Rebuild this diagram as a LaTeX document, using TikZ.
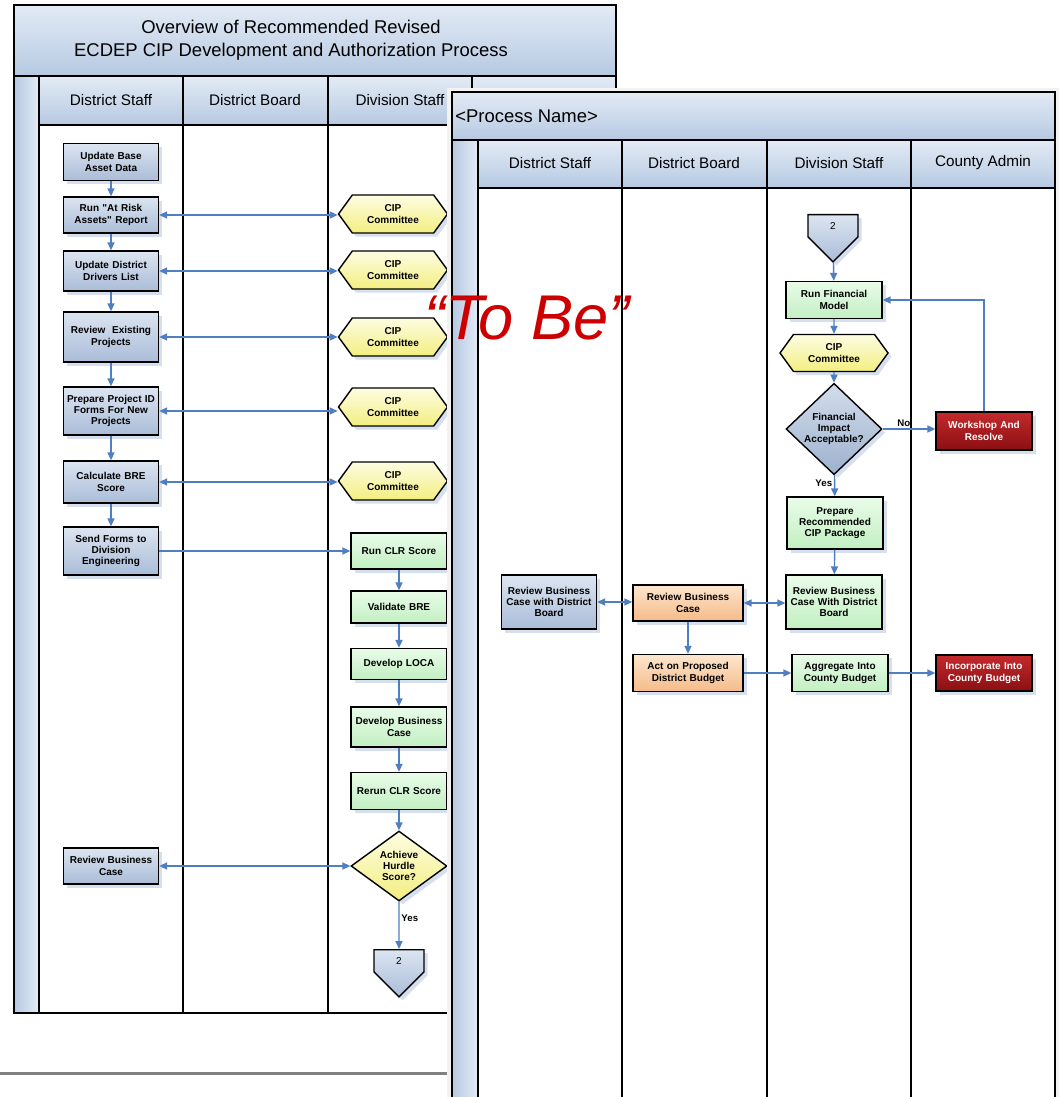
\documentclass[tikz,border=0pt]{standalone}
\usepackage{fontspec}
\setmainfont{Liberation Sans}
\usetikzlibrary{arrows.meta,shapes.geometric,shapes.symbols,shadows}

\definecolor{bandtop}{HTML}{E3EBF5}
\definecolor{bandbot}{HTML}{B6C9E2}
\definecolor{bluetop}{HTML}{DCE5F1}
\definecolor{bluebot}{HTML}{AABCD8}
\definecolor{greentop}{HTML}{E9FCE9}
\definecolor{greenbot}{HTML}{C2EFC2}
\definecolor{yeltop}{HTML}{FDFDE2}
\definecolor{yelbot}{HTML}{F3EE80}
\definecolor{orgtop}{HTML}{FDE6CF}
\definecolor{orgbot}{HTML}{F5BB88}
\definecolor{redtop}{HTML}{C42A2D}
\definecolor{redbot}{HTML}{8A0F12}
\definecolor{dectop}{HTML}{D3DDEB}
\definecolor{decbot}{HTML}{9DB1CE}
\definecolor{flow}{HTML}{4F7FC2}
\definecolor{shadowc}{HTML}{CCD7EA}
\definecolor{tobe}{HTML}{CC0000}

\begin{document}
\begin{tikzpicture}[x=0.02cm, y=-0.02cm,
  lane/.style={draw=black, line width=0.9pt},
  hdr/.style={font=\fontsize{8.7}{10}\selectfont, inner sep=0pt},
  box/.style={draw=black, line width=0.8pt, align=center, inner sep=0pt,
    font=\fontsize{5.7}{6.4}\selectfont\bfseries,
    drop shadow={shadow xshift=2pt, shadow yshift=-2pt, fill=shadowc, opacity=0.8}},
  bluebox/.style={box, top color=bluetop, bottom color=bluebot, text width=1.9cm},
  greenbox/.style={box, top color=greentop, bottom color=greenbot, text width=1.92cm},
  orangebox/.style={box, top color=orgtop, bottom color=orgbot, text width=2.2cm},
  redbox/.style={box, top color=redtop, bottom color=redbot, text=white, text width=1.92cm},
  cip/.style={box, top color=yeltop, bottom color=yelbot, signal, signal to=east and west,
    signal pointer angle=108, minimum width=2.18cm, minimum height=0.76cm},
  pent/.style={box, top color=bluetop, bottom color=bluebot, signal, signal to=south,
    signal pointer angle=90, minimum width=1cm, minimum height=0.5cm, font=\fontsize{5.7}{6.4}\selectfont},
  dec/.style={box, diamond, minimum width=1.92cm},
  lbl/.style={font=\fontsize{5.5}{6}\selectfont\bfseries, inner sep=1pt},
  arr/.style={draw=flow, line width=0.8pt, -{Triangle[length=4.5pt,width=4pt]}},
  darr/.style={draw=flow, line width=0.8pt, {Triangle[length=4.5pt,width=4pt]}-{Triangle[length=4.5pt,width=4pt]}}]

\useasboundingbox (0,0) rectangle (1059,1097);
\clip (0,0) rectangle (1059,1097);

% left sheet
\fill[white] (14,5) rectangle (616,1013);
\shade[top color=bandtop, bottom color=bandbot] (14,5) rectangle (616,76);
\shade[top color=bandtop, bottom color=bandbot] (39,76) rectangle (616,125);
\shade[left color=bandbot, right color=bandtop] (14,76) rectangle (39,1013);
\draw[lane] (14,5) rectangle (616,1013);
\draw[lane] (14,76) -- (616,76);
\draw[lane] (39,125) -- (616,125);
\draw[lane] (39,76) -- (39,1013);
\foreach \x in {183,328,472} \draw[lane] (\x,76) -- (\x,1013);
\draw[draw=gray, line width=1.7pt] (0,1073) -- (452,1073);

\node[align=center, font=\fontsize{10.5}{12.8}\selectfont, inner sep=0pt] (title) at (291,40)
  {Overview of Recommended Revised\\ECDEP CIP Development and Authorization Process};
\node[hdr] (hl1) at (111,100) {District Staff};
\node[hdr] (hl2) at (255,100) {District Board};
\node[hdr] (hl3) at (400,100) {Division Staff};

\node[bluebox, minimum height=0.74cm] (s1) at (111,162) {Update Base\\Asset Data};
\node[bluebox, minimum height=0.72cm] (s2) at (111,215) {Run \textquotedbl At Risk\\Assets\textquotedbl{} Report};
\node[bluebox, minimum height=0.8cm] (s3) at (111,271) {Update District\\Drivers List};
\node[bluebox, minimum height=1cm] (s4) at (111,337) {Review\ \ Existing\\Projects};
\node[bluebox, minimum height=0.96cm] (s5) at (111,411) {Prepare Project ID\\Forms For New\\Projects};
\node[bluebox, minimum height=0.84cm] (s6) at (111,482) {Calculate BRE\\Score};
\node[bluebox, minimum height=0.96cm] (s7) at (111,551) {Send Forms to\\Division\\Engineering};
\node[bluebox, minimum height=0.72cm] (s8) at (111,866) {Review Business\\Case};

\node[cip] (c1) at (393,214) {CIP\\Committee};
\node[cip] (c2) at (393,270) {CIP\\Committee};
\node[cip] (c3) at (393,337) {CIP\\Committee};
\node[cip] (c4) at (393,407) {CIP\\Committee};
\node[cip] (c5) at (393,481) {CIP\\Committee};

\node[greenbox, minimum height=0.72cm] (g1) at (399,551) {Run CLR Score};
\node[greenbox, minimum height=0.64cm] (g2) at (399,607) {Validate BRE};
\node[greenbox, minimum height=0.62cm] (g3) at (399,664) {Develop LOCA};
\node[greenbox, minimum height=0.8cm] (g4) at (399,727) {Develop Business\\Case};
\node[greenbox, minimum height=0.74cm] (g5) at (399,791) {Rerun CLR Score};
\node[dec, top color=yeltop, bottom color=yelbot, minimum height=1.4cm] (d1) at (399,866) {Achieve\\Hurdle\\Score?};
\node[pent, anchor=north] (p1) at (399,949) {2};

\draw[arr] (s1) -- (s2);
\draw[arr] (s2) -- (s3);
\draw[arr] (s3) -- (s4);
\draw[arr] (s4) -- (s5);
\draw[arr] (s5) -- (s6);
\draw[arr] (s6) -- (s7);
\draw[darr] (s2.east) -- (s2.east -| c1.west);
\draw[darr] (s3.east) -- (s3.east -| c2.west);
\draw[darr] (s4.east) -- (s4.east -| c3.west);
\draw[darr] (s5.east) -- (s5.east -| c4.west);
\draw[darr] (s6.east) -- (s6.east -| c5.west);
\draw[arr] (s7.east) -- (g1.west);
\draw[arr] (g1) -- (g2);
\draw[arr] (g2) -- (g3);
\draw[arr] (g3) -- (g4);
\draw[arr] (g4) -- (g5);
\draw[arr] (g5) -- (d1);
\draw[darr] (s8.east) -- (d1.west);
\draw[arr] (d1) -- node[lbl, right, pos=0.35] {Yes} (p1);

% right sheet
\fill[black!5] (447,88) rectangle (1059,1097);
\fill[white] (452,92) rectangle (1055,1100);
\shade[top color=bandtop, bottom color=bandbot] (452,92) rectangle (1055,140);
\shade[top color=bandtop, bottom color=bandbot] (478,140) rectangle (1055,188);
\shade[left color=bandbot, right color=bandtop] (452,140) rectangle (478,1100);
\draw[lane] (452,1100) -- (452,92) -- (1055,92) -- (1055,1100);
\draw[lane] (452,140) -- (1055,140);
\draw[lane] (478,188) -- (1055,188);
\draw[lane] (478,140) -- (478,1100);
\foreach \x in {622,767,911} \draw[lane] (\x,140) -- (\x,1100);

\node[anchor=west, font=\fontsize{10.5}{12.8}\selectfont, inner sep=0pt] (pname) at (455,116) {<Process Name>};
\node[hdr] (hr1) at (550,163) {District Staff};
\node[hdr] (hr2) at (694,163) {District Board};
\node[hdr] (hr3) at (839,163) {Division Staff};
\node[hdr] (hr4) at (983,163) {County Admin};

\node[pent, anchor=north] (p2) at (833,214) {2};
\node[greenbox, minimum height=0.74cm] (f1) at (834,300) {Run Financial\\Model};
\node[cip, minimum width=2.16cm, minimum height=0.74cm] (h6) at (834,353) {CIP\\Committee};
\node[dec, top color=dectop, bottom color=decbot, minimum height=1.46cm] (d2) at (834,429) {Financial\\Impact\\Acceptable?};
\node[redbox, minimum height=0.76cm] (w1) at (984,431) {Workshop And\\Resolve};
\node[greenbox, minimum height=1.04cm] (r1) at (835,523) {Prepare\\Recommended\\CIP Package};
\node[greenbox, minimum height=1.08cm] (r2) at (834,602) {Review Business\\Case With District\\Board};
\node[bluebox, minimum height=1.08cm] (b1) at (549,602) {Review Business\\Case with District\\Board};
\node[orangebox, minimum height=0.72cm] (o1) at (688,603) {Review Business\\Case};
\node[orangebox, minimum height=0.74cm] (o2) at (688,673) {Act on Proposed\\District Budget};
\node[greenbox, minimum height=0.74cm] (a1) at (840,673) {Aggregate Into\\County Budget};
\node[redbox, minimum height=0.72cm] (x1) at (984,673) {Incorporate Into\\County Budget};

\draw[arr] (p2) -- (f1);
\draw[arr] (f1) -- (h6);
\draw[arr] (h6) -- (d2);
\draw[arr] (d2.east) -- node[lbl, above, pos=0.4] {No} (d2.east -| w1.west);
\draw[arr] (w1.north) |- (f1.east);
\draw[arr] (d2) -- node[lbl, left, pos=0.4] {Yes} (r1);
\draw[arr] (r1) -- (r2);
\draw[darr] (b1.east) -- (b1.east -| o1.west);
\draw[darr] (o1.east) -- (o1.east -| r2.west);
\draw[arr] (o1) -- (o2);
\draw[arr] (o2.east) -- (o2.east -| a1.west);
\draw[arr] (a1.east) -- (a1.east -| x1.west);

\node[text=tobe, font=\fontsize{36}{40}\selectfont\itshape, inner sep=0pt] (tobe) at (527,318) {``To Be''};
\end{tikzpicture}
\end{document}
